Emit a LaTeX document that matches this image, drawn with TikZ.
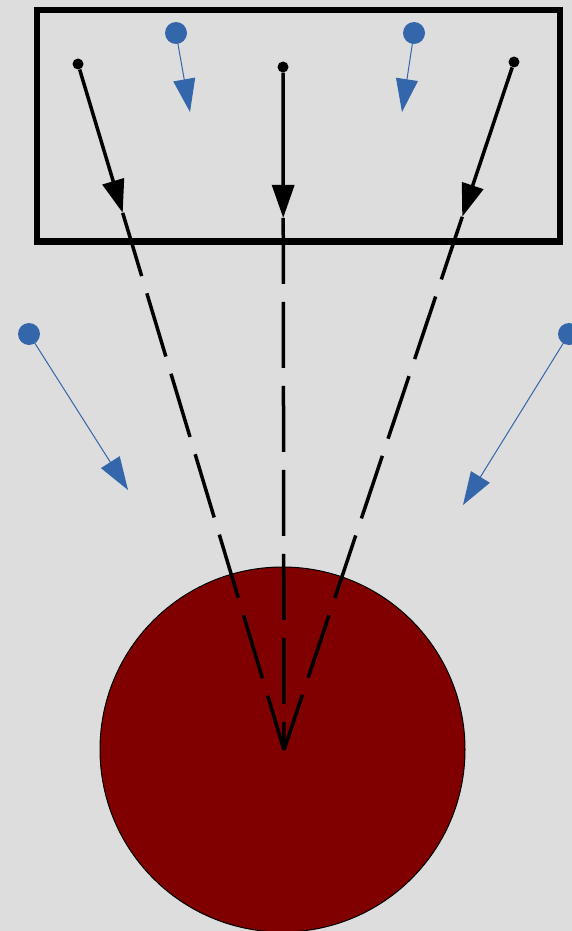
\documentclass[tikz,border=0pt]{standalone}
\usepackage{xcolor}
\usepackage{tikz}
\usetikzlibrary{arrows.meta,calc}
\definecolor{bgcol}{HTML}{DDDDDD}
\definecolor{raycol}{HTML}{3366AA}
\definecolor{bodycol}{HTML}{800000}
\tikzstyle{srcdot}=[circle, fill=black, inner sep=0pt, minimum size=11pt]
\tikzstyle{bluedot}=[circle, fill=raycol, inner sep=0pt, minimum size=22pt]
\tikzstyle{ray}=[-{Triangle[length=33pt, width=22pt]}, line width=3.5pt]
\tikzstyle{dashray}=[line width=3.5pt, dash pattern=on 66pt off 18pt]
\tikzstyle{bluearrow}=[-{Triangle[length=33pt, width=22pt]}, draw=raycol, line width=1pt]

\begin{document}
\begin{tikzpicture}[x=1pt, y=-1pt]
\useasboundingbox (0,0) rectangle (572,931);
\fill[bgcol] (0,0) rectangle (572,931);
\node (body) [circle, draw=black, line width=1pt, fill=bodycol, minimum size=365pt, inner sep=0pt] at (282.5,749.5) {};
\draw[line width=6.5pt] (37,10) rectangle (560,241.5);
\coordinate (focus) at (284,750);
\node (s1) [srcdot] at (78,64) {};
\node (s2) [srcdot] at (283,67) {};
\node (s3) [srcdot] at (514,62) {};
\coordinate (t1) at ($(s1)!0.217!(focus)$);
\coordinate (t2) at ($(s2)!0.221!(focus)$);
\coordinate (t3) at ($(s3)!0.225!(focus)$);
\draw[ray] (s1) -- (t1);
\draw[ray] (s2) -- (t2);
\draw[ray] (s3) -- (t3);
\draw[dashray] (t1) -- (focus);
\draw[dashray] (t2) -- (focus);
\draw[dashray] (t3) -- (focus);
\node (b1) [bluedot] at (176,33) {};
\node (b2) [bluedot] at (414,33) {};
\node (b3) [bluedot] at (29,334) {};
\node (b4) [bluedot] at (569,334) {};
\coordinate (e1) at (190,112);
\coordinate (e2) at (402,112);
\coordinate (e3) at (128,490);
\coordinate (e4) at (463,505);
\draw[bluearrow] (b1.center) -- (e1);
\draw[bluearrow] (b2.center) -- (e2);
\draw[bluearrow] (b3.center) -- (e3);
\draw[bluearrow] (b4.center) -- (e4);
\end{tikzpicture}
\end{document}
